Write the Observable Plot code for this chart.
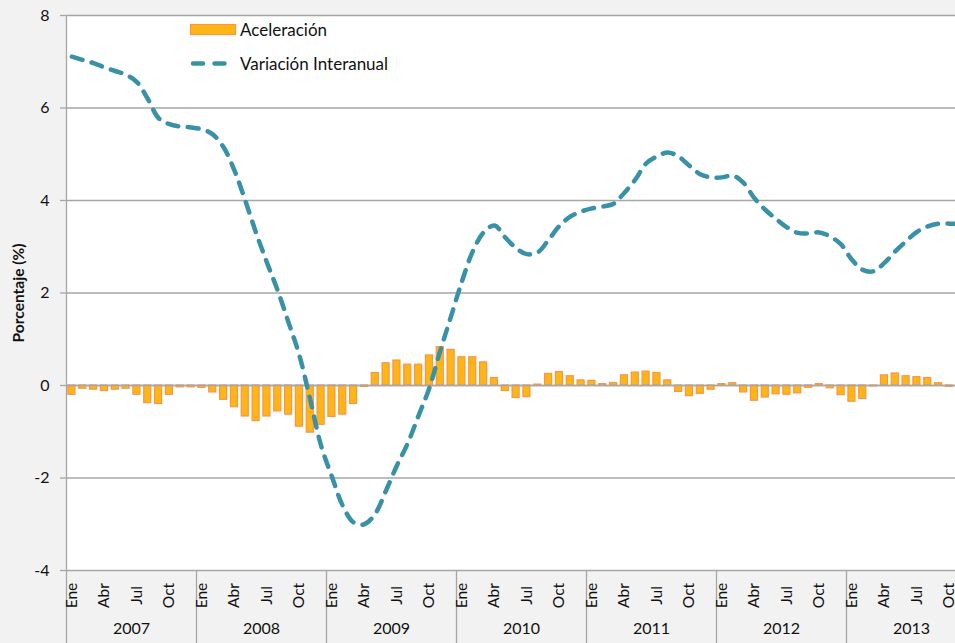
<!DOCTYPE html>
<html>
<head>
<meta charset="utf-8">
<script src="https://cdn.jsdelivr.net/npm/d3@7"></script>
<script src="https://cdn.jsdelivr.net/npm/@observablehq/plot@0.6"></script>
<style>
  html, body { margin: 0; padding: 0; background: #f2f2f2; overflow: hidden; }
  #wrap { position: relative; width: 955px; height: 643px; font-family: Lato, "Open Sans", sans-serif; }
  #legend { position: absolute; left: 0; top: 0; pointer-events: none; }
  .lg { position: absolute; font-size: 17px; color: #111; line-height: 1; white-space: nowrap; }
</style>
</head>
<body>
<div id="wrap">
  <div id="chart"></div>
  <div id="legend"></div>
</div>
<script>
// ---- data ----
const startYear = 2007;
const years = [2007, 2008, 2009, 2010, 2011, 2012, 2013];
const monthTickLabels = ["Ene", "Abr", "Jul", "Oct"];
const yTicks = [-4, -2, 0, 2, 4, 6, 8];
const seriesNames = ["Aceleración", "Variación Interanual"];

// Aceleración (bars), monthly from Ene 2007 to Oct 2013
const aceleracion = [
  -0.20, -0.07, -0.09, -0.12, -0.09, -0.07, -0.20, -0.38, -0.40, -0.20, -0.04, -0.04,
  -0.05, -0.15, -0.31, -0.47, -0.67, -0.77, -0.67, -0.56, -0.63, -0.89, -1.02, -0.85,
  -0.68, -0.63, -0.40, -0.03, 0.27, 0.48, 0.54, 0.45, 0.45, 0.65, 0.83, 0.77,
  0.61, 0.61, 0.50, 0.16, -0.12, -0.27, -0.25, 0.02, 0.25, 0.29, 0.20, 0.11,
  0.10, 0.03, 0.05, 0.22, 0.28, 0.30, 0.27, 0.11, -0.14, -0.23, -0.18, -0.09,
  0.03, 0.05, -0.15, -0.33, -0.26, -0.19, -0.20, -0.17, -0.05, 0.03, -0.06, -0.21,
  -0.35, -0.29, -0.02, 0.22, 0.26, 0.20, 0.18, 0.16, 0.05, -0.03
];

// Variación Interanual (line), monthly from Ene 2007 to Nov 2013
const variacion = [
  7.11, 7.04, 6.97, 6.88, 6.80, 6.72, 6.56, 6.20, 5.78, 5.65, 5.60, 5.58,
  5.54, 5.43, 5.15, 4.65, 4.00, 3.30, 2.66, 2.05, 1.36, 0.65, -0.31, -1.30,
  -1.97, -2.60, -2.96, -3.00, -2.77, -2.27, -1.73, -1.25, -0.65, -0.05, 0.75, 1.50,
  2.25, 2.90, 3.31, 3.46, 3.20, 2.97, 2.84, 2.88, 3.15, 3.45, 3.65, 3.76,
  3.83, 3.87, 3.93, 4.17, 4.45, 4.80, 4.95, 5.04, 4.95, 4.75, 4.57, 4.50,
  4.50, 4.54, 4.38, 4.05, 3.80, 3.60, 3.42, 3.30, 3.29, 3.31, 3.22, 3.05,
  2.72, 2.50, 2.47, 2.65, 2.90, 3.12, 3.32, 3.44, 3.50, 3.50, 3.50
];

// ---- derived tables ----
const barRows = aceleracion.map((v, i) => ({i, v}));
const lineRows = variacion.map((v, i) => ({i, v}));
const monthTicks = [];
years.forEach((y, yi) => monthTickLabels.forEach((m, q) => monthTicks.push({i: yi * 12 + q * 3, label: m})));
const yearBounds = years.map((y, yi) => yi * 12);

const BAR_FILL = "#FFB515";
const BAR_STROKE = "#F79646";
const LINE = "#3891A6";
const GRID = "#a6a6a6";

const chart = Plot.plot({
  width: 955,
  height: 643,
  marginLeft: 66,
  marginRight: 0,
  marginTop: 15,
  marginBottom: 73,
  style: {background: "#f2f2f2", fontFamily: "Lato, 'Open Sans', sans-serif", fontSize: "16px", color: "#111"},
  x: {domain: [0, 82.06], axis: null},
  y: {domain: [-4, 8], axis: null},
  marks: [
    Plot.frame({fill: "white", stroke: "none"}),
    Plot.gridY(yTicks, {stroke: GRID, strokeOpacity: 1, strokeWidth: 1.3}),
    Plot.ruleX([0], {stroke: GRID, strokeWidth: 1.3}),
    Plot.axisY({ticks: yTicks, tickSize: 6, tickPadding: 11, tickFormat: d => String(d), stroke: GRID, strokeWidth: 1.3, label: null, fontSize: 16}),
    Plot.axisX({ticks: yearBounds, tickSize: 73, tickFormat: () => "", stroke: GRID, strokeWidth: 1.3, label: null}),
    Plot.rect(barRows, {
      x1: d => d.i + 0.175, x2: d => d.i + 0.825, y1: 0, y2: d => d.v,
      fill: BAR_FILL, stroke: BAR_STROKE, strokeWidth: 1.2
    }),
    Plot.ruleY([0], {stroke: GRID, strokeWidth: 1.3}),
    Plot.line(lineRows, {
      x: d => d.i + 0.5, y: d => d.v, curve: "catmull-rom",
      stroke: LINE, strokeWidth: 4.5, strokeDasharray: "11,9.5", strokeLinecap: "round",
      clip: true
    }),
    Plot.text(monthTicks, {
      x: d => d.i + 0.5, text: d => d.label, frameAnchor: "bottom", dy: 25,
      rotate: -90, textAnchor: "middle", lineAnchor: "middle", fontSize: 15.5, fill: "#111"
    }),
    Plot.text(years, {
      x: (d, yi) => yi * 12 + 6, text: d => String(d), frameAnchor: "bottom", dy: 63,
      fontSize: 16, fill: "#111"
    }),
    Plot.text(["Porcentaje (%)"], {
      frameAnchor: "left", dx: -47, rotate: -90, textAnchor: "middle", lineAnchor: "middle",
      fontWeight: "bold", fontSize: 15.5, fill: "#111"
    })
  ]
});
document.getElementById("chart").appendChild(chart);

// ---- legend (inside plot area, top) ----
const legend = document.getElementById("legend");
legend.innerHTML = `
  <svg width="260" height="80" style="position:absolute;left:0;top:0;overflow:visible">
    <rect x="190.5" y="24.5" width="45" height="10" fill="${BAR_FILL}" stroke="${BAR_STROKE}" stroke-width="1.2"></rect>
    <line x1="193" x2="236" y1="63.5" y2="63.5" stroke="${LINE}" stroke-width="4.5" stroke-dasharray="10,11.5" stroke-linecap="round"></line>
  </svg>
  <div class="lg" style="left:240px;top:21px">${seriesNames[0]}</div>
  <div class="lg" style="left:240px;top:55px">${seriesNames[1]}</div>
`;
</script>
</body>
</html>
